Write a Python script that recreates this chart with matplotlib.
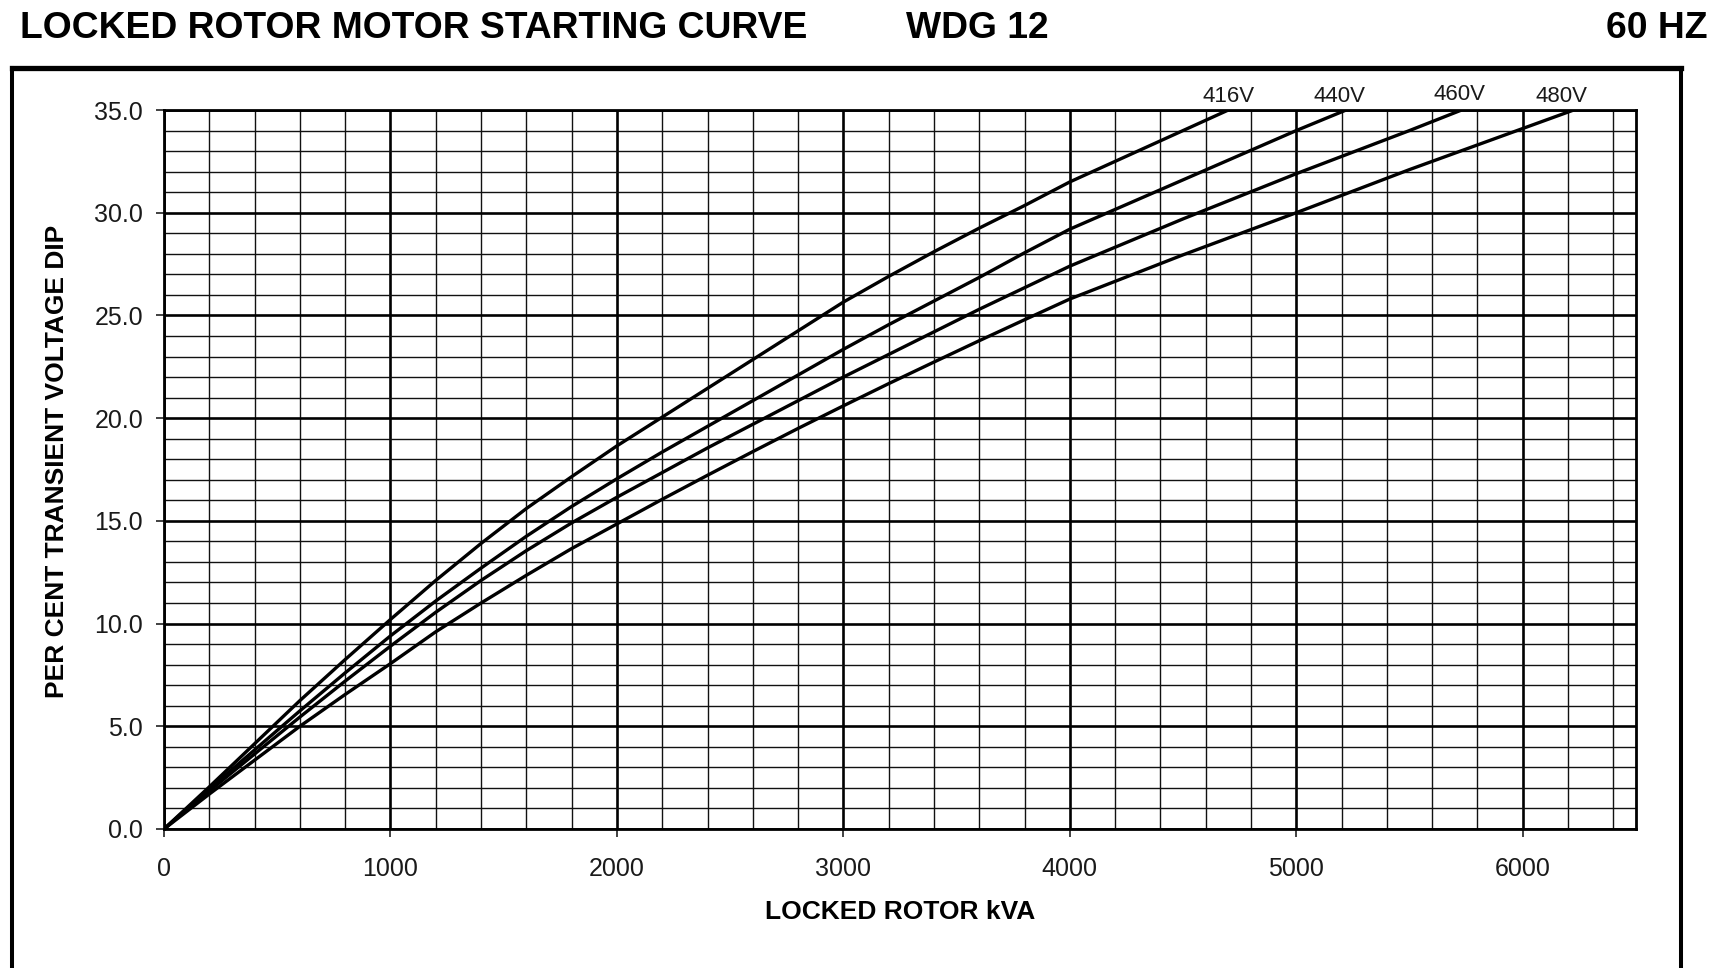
import matplotlib
matplotlib.use("Agg")
import matplotlib.pyplot as plt
from matplotlib.lines import Line2D
from matplotlib.ticker import MultipleLocator

plt.rcParams['font.family'] = ['Liberation Sans', 'DejaVu Sans']

# ---- data ----
kva_416 = [0, 200, 400, 600, 800, 1000, 1200, 1400, 1600, 1800, 2000, 2200, 2400, 2600,
           2800, 3000, 3200, 3400, 3600, 3800, 4000, 4200, 4400, 4600, 4700]
dip_416 = [0, 2.05, 4.15, 6.25, 8.25, 10.2, 12.1, 13.9, 15.6, 17.15, 18.65, 20.05, 21.45, 22.85,
           24.25, 25.65, 26.9, 28.1, 29.25, 30.35, 31.5, 32.5, 33.5, 34.5, 35.0]

kva_440 = [0, 200, 400, 600, 800, 1000, 1200, 1400, 1600, 1800, 2000, 2200, 2400, 2600,
           2800, 3000, 3200, 3400, 3600, 3800, 4000, 4500, 5000, 5220]
dip_440 = [0, 1.95, 3.85, 5.75, 7.6, 9.4, 11.1, 12.7, 14.25, 15.7, 17.05, 18.35, 19.6, 20.85,
           22.1, 23.35, 24.55, 25.7, 26.85, 28.05, 29.2, 31.6, 34.0, 35.0]

kva_460 = [0, 200, 400, 600, 800, 1000, 1200, 1400, 1600, 1800, 2000, 2200, 2400, 2600,
           2800, 3000, 3200, 3400, 3600, 3800, 4000, 4500, 5000, 5500, 5730]
dip_460 = [0, 1.85, 3.65, 5.45, 7.2, 8.9, 10.55, 12.1, 13.55, 14.9, 16.15, 17.35, 18.55, 19.7,
           20.85, 22.0, 23.1, 24.2, 25.3, 26.35, 27.4, 29.7, 31.9, 34.0, 35.0]

kva_480 = [0, 200, 400, 600, 800, 1000, 1200, 1400, 1600, 1800, 2000, 2200, 2400, 2600,
           2800, 3000, 3200, 3400, 3600, 3800, 4000, 4500, 5000, 5500, 6000, 6225]
dip_480 = [0, 1.7, 3.35, 5.0, 6.55, 8.05, 9.6, 11.0, 12.35, 13.65, 14.85, 16.05, 17.22, 18.37,
           19.5, 20.6, 21.68, 22.73, 23.77, 24.79, 25.8, 27.95, 30.0, 32.1, 34.1, 35.0]

curve_labels = ['416V', '440V', '460V', '480V']
label_kva = [4700, 5190, 5720, 6170]
x_ticks = [0, 1000, 2000, 3000, 4000, 5000, 6000]
y_ticks = [0, 5, 10, 15, 20, 25, 30, 35]
y_ticklabels = ['0.0', '5.0', '10.0', '15.0', '20.0', '25.0', '30.0', '35.0']

title_text = 'LOCKED ROTOR MOTOR STARTING CURVE'
wdg_text = 'WDG 12'
hz_text = '60 HZ'
x_label = 'LOCKED ROTOR kVA'
y_label = 'PER CENT TRANSIENT VOLTAGE DIP'

W, H = 1719, 968
fig = plt.figure(figsize=(W / 100, H / 100), dpi=100)
fig.patch.set_facecolor('white')

L, R, T, B = 164, 1636, 110, 829
ax = fig.add_axes([L / W, 1 - B / H, (R - L) / W, (B - T) / H])
ax.set_xlim(0, 6500)
ax.set_ylim(0, 35)

# grid
ax.xaxis.set_major_locator(MultipleLocator(1000))
ax.xaxis.set_minor_locator(MultipleLocator(200))
ax.yaxis.set_major_locator(MultipleLocator(5))
ax.yaxis.set_minor_locator(MultipleLocator(1))
ax.grid(which='minor', color='#111111', linewidth=1.0)
ax.grid(which='major', color='#000000', linewidth=1.9)
ax.set_axisbelow(True)

ax.set_xticks(x_ticks)
ax.set_yticks(y_ticks)
ax.set_yticklabels(y_ticklabels)
ax.tick_params(which='major', length=6, width=1.3, color='#333333', labelsize=18,
               labelcolor='#1a1a1a')
ax.tick_params(axis='x', which='major', pad=14.5)
ax.tick_params(axis='y', which='major', pad=9)
ax.tick_params(which='minor', length=0)
for s in ax.spines.values():
    s.set_linewidth(2.0)
    s.set_color('black')

series = [(kva_416, dip_416), (kva_440, dip_440), (kva_460, dip_460), (kva_480, dip_480)]
label_offsets = [10.0, 10.0, 11.5, 10.0]
for (xs, ys), lab, lx, off in zip(series, curve_labels, label_kva, label_offsets):
    ax.plot(xs, ys, color='black', linewidth=2.4, solid_joinstyle='round',
            solid_capstyle='butt')
    ax.annotate(lab, xy=(lx, 35), xytext=(0, off), textcoords='offset points',
                ha='center', va='center', fontsize=16, color='#1a1a1a',
                annotation_clip=False)

ax.set_xlabel(x_label, fontsize=19, fontweight='bold', va='center')
ax.xaxis.set_label_coords(0.5, -0.116)
ax.set_ylabel(y_label, fontsize=19, fontweight='bold', va='center')
ax.yaxis.set_label_coords(-0.0727, 0.511)

# header texts
fig.text(20 / W, 1 - 37.5 / H, title_text, fontsize=26.8, fontweight='bold',
         ha='left', va='baseline')
fig.text(906 / W, 1 - 37.5 / H, wdg_text, fontsize=26.8, fontweight='bold',
         ha='left', va='baseline')
fig.text(1708 / W, 1 - 37.5 / H, hz_text, fontsize=26.8, fontweight='bold',
         ha='right', va='baseline')

# outer frame
fl, fr, ft = 12 / W, 1681 / W, 1 - 67.5 / H
fig.add_artist(Line2D([fl, fr], [ft, ft], transform=fig.transFigure, color='black',
                      linewidth=3.8, solid_capstyle='projecting'))
fig.add_artist(Line2D([fl, fl], [ft, -0.02], transform=fig.transFigure, color='black',
                      linewidth=2.9))
fig.add_artist(Line2D([fr, fr], [ft, -0.02], transform=fig.transFigure, color='black',
                      linewidth=2.9))

fig.savefig('out.png', dpi=100)
